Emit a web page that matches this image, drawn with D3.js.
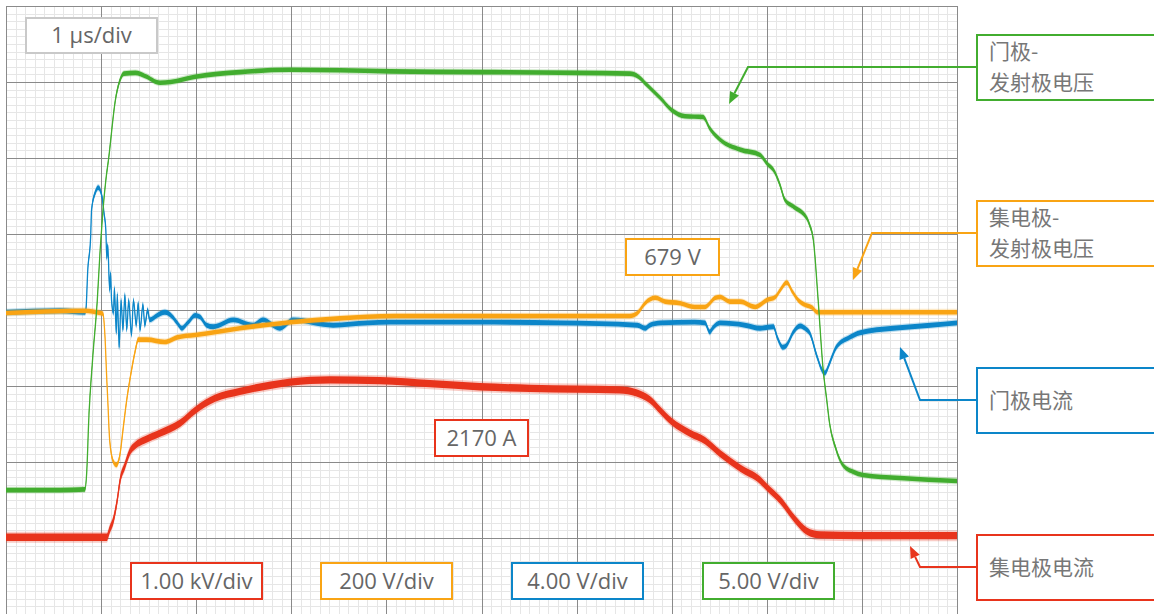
<!DOCTYPE html>
<html>
<head>
<meta charset="utf-8">
<script src="https://cdn.jsdelivr.net/npm/d3@7"></script>
<style>
  html, body { margin: 0; padding: 0; background: #fff; }
  svg { display: block; }
  .lbl { font-family: 'Open Sans', 'Noto Sans', sans-serif; font-size: 22px; fill: #666; }
  .cjk { font-family: 'Noto Sans CJK SC', sans-serif; font-size: 21px; fill: #777; }
</style>
</head>
<body>
<div id="chart"></div>
<script>
// time in µs, values in screen divisions (0 = centre line)
const gateEmitter = [
  [-1, -2.37], [-0.43, -2.37], [-0.17, -2.36], [-0.15, -2.11], [-0.13, -1.45], [-0.09, -0.66],
  [-0.04, 0.13], [-0.01, 0.79], [0.02, 1.32], [0.05, 1.71], [0.08, 2.00], [0.15, 2.76],
  [0.20, 3.03], [0.24, 3.11], [0.36, 3.12], [0.46, 3.08], [0.62, 2.99], [0.73, 3.00],
  [0.99, 3.07], [1.46, 3.13], [1.99, 3.16], [3.04, 3.14], [3.98, 3.13], [5.00, 3.12],
  [5.56, 3.11], [5.65, 3.07], [5.74, 2.96], [5.88, 2.79], [6.00, 2.63], [6.14, 2.55],
  [6.33, 2.54], [6.40, 2.39], [6.51, 2.24], [6.72, 2.11], [6.93, 2.04], [7.00, 1.93],
  [7.09, 1.80], [7.14, 1.64], [7.19, 1.45], [7.28, 1.36], [7.42, 1.21], [7.45, 1.12],
  [7.49, 0.92], [7.54, 0.13], [7.59, -0.75], [7.63, -1.18], [7.66, -1.49], [7.72, -1.80],
  [7.80, -2.04], [7.91, -2.13], [8.01, -2.17], [8.40, -2.21], [9.00, -2.25]
];

const collectorCurrent = [
  [-1, -2.99], [0.06, -2.99], [0.09, -2.89], [0.13, -2.76], [0.17, -2.50], [0.20, -2.24],
  [0.25, -2.05], [0.30, -1.87], [0.36, -1.78], [0.46, -1.71], [0.62, -1.62], [0.83, -1.49],
  [0.99, -1.32], [1.20, -1.16], [1.46, -1.07], [1.78, -0.99], [1.99, -0.95], [2.41, -0.92],
  [2.93, -0.93], [3.46, -0.97], [3.98, -1.01], [4.51, -1.03], [5.00, -1.04], [5.45, -1.05],
  [5.63, -1.09], [5.77, -1.18], [5.88, -1.32], [6.00, -1.47], [6.19, -1.62], [6.35, -1.72],
  [6.51, -1.89], [6.72, -2.08], [6.93, -2.24], [7.00, -2.33], [7.14, -2.50], [7.30, -2.76],
  [7.42, -2.91], [7.56, -2.96], [7.98, -2.97], [9.00, -2.97]
];

const collectorEmitter = [
  [-1, -0.04], [-0.17, -0.01], [-0.01, -0.04], [0.02, -0.05], [0.04, -0.33], [0.06, -0.92],
  [0.07, -1.18], [0.09, -1.71], [0.13, -2.00], [0.16, -2.04], [0.20, -1.89], [0.23, -1.58],
  [0.27, -1.18], [0.32, -0.79], [0.36, -0.53], [0.39, -0.39], [0.48, -0.39], [0.67, -0.42],
  [0.80, -0.36], [0.99, -0.33], [1.46, -0.24], [1.99, -0.16], [2.51, -0.11], [3.09, -0.08],
  [3.98, -0.08], [5.56, -0.08], [5.64, -0.04], [5.72, 0.09], [5.83, 0.16], [5.93, 0.11],
  [6.09, 0.09], [6.24, 0.04], [6.35, 0.04], [6.46, 0.16], [6.51, 0.17], [6.61, 0.11],
  [6.72, 0.11], [6.88, 0.04], [7.00, 0.13], [7.09, 0.17], [7.14, 0.26], [7.21, 0.36],
  [7.27, 0.24], [7.33, 0.13], [7.40, 0.07], [7.48, 0.03], [7.53, -0.03], [9.00, -0.03]
];

const gateCurrent = [
  [-1, -0.03], [-0.43, -0.01], [-0.17, -0.03], [-0.16, 0.00], [-0.14, 0.53], [-0.11, 0.96],
  [-0.10, 1.32], [-0.06, 1.55], [-0.03, 1.61], [0.01, 1.49], [0.03, 1.28], [0.05, 1.05],
  [0.06, 0.68], [0.07, 0.86], [0.09, 0.26], [0.10, 0.49], [0.11, 0.13], [0.13, -0.04],
  [0.14, 0.29], [0.16, -0.30], [0.17, 0.21], [0.19, -0.49], [0.21, 0.13], [0.23, -0.26],
  [0.25, 0.20], [0.27, -0.26], [0.29, 0.13], [0.32, -0.33], [0.34, 0.13], [0.37, -0.20],
  [0.39, 0.09], [0.41, -0.26], [0.44, 0.07], [0.46, -0.20], [0.49, 0.00], [0.51, -0.13],
  [0.59, -0.07], [0.67, -0.03], [0.75, -0.09], [0.80, -0.17], [0.85, -0.24], [0.91, -0.17],
  [0.99, -0.07], [1.04, -0.09], [1.11, -0.20], [1.18, -0.22], [1.39, -0.13], [1.60, -0.20],
  [1.70, -0.13], [1.88, -0.24], [2.02, -0.13], [2.44, -0.20], [2.80, -0.17], [3.04, -0.16],
  [3.98, -0.16], [4.83, -0.17], [5.64, -0.20], [5.72, -0.24], [5.77, -0.20], [5.88, -0.17],
  [6.24, -0.16], [6.35, -0.17], [6.40, -0.29], [6.43, -0.24], [6.51, -0.17], [6.77, -0.20],
  [6.93, -0.24], [7.07, -0.22], [7.11, -0.36], [7.17, -0.49], [7.21, -0.46], [7.28, -0.29],
  [7.35, -0.21], [7.42, -0.26], [7.45, -0.30], [7.53, -0.62], [7.58, -0.79], [7.61, -0.83],
  [7.66, -0.70], [7.73, -0.49], [7.87, -0.36], [7.98, -0.30], [8.33, -0.24], [8.72, -0.20],
  [9.00, -0.17]
];

const scaleLabels = ['1.00 kV/div', '200 V/div', '4.00 V/div', '5.00 V/div'];
const traceNames = [['门极-', '发射极电压'], ['集电极-', '发射极电压'], ['门极电流'], ['集电极电流']];
const readouts = ['2170 A', '679 V'];
const timebase = '1 µs/div';

const colors = { red: '#e8341c', orange: '#f9a414', blue: '#0c86c9', green: '#42ad2f' };

const width = 1154, height = 614;
const plot = { left: 6, right: 957, top: 6, bottom: 614 };

const x = d3.scaleLinear().domain([-1, 9]).range([plot.left, plot.right]);
const y = d3.scaleLinear().domain([-4, 4]).range([plot.bottom, plot.top]);

const svg = d3.select('#chart').append('svg')
  .attr('width', width)
  .attr('height', height);

// grid
const xg = x.copy().interpolate(d3.interpolateRound);
const yg = y.copy().interpolate(d3.interpolateRound);
const minorX = d3.range(-10, 91).map(d => d / 10).filter(d => Math.round(d * 10) % 10 !== 0);
const minorY = d3.range(-40, 41).map(d => d / 10).filter(d => Math.round(d * 10) % 10 !== 0);

function grid(g, axis, color, w) {
  g.call(axis);
  g.select('.domain').remove();
  g.selectAll('.tick line').attr('stroke', color).attr('stroke-width', w);
  g.selectAll('.tick text').remove();
}

svg.append('g')
  .attr('transform', `translate(0,${plot.bottom})`)
  .call(grid, d3.axisBottom(xg).tickValues(minorX).tickSize(-(plot.bottom - plot.top)), '#e6e6e6', 1);
svg.append('g')
  .attr('transform', `translate(${plot.left},0)`)
  .call(grid, d3.axisLeft(yg).tickValues(minorY).tickSize(-(plot.right - plot.left)), '#e6e6e6', 1);
svg.append('g')
  .attr('transform', `translate(0,${plot.bottom})`)
  .call(grid, d3.axisBottom(xg).tickValues(d3.range(-1, 10)).tickSize(-(plot.bottom - plot.top)), '#8a8a8a', 1);
svg.append('g')
  .attr('transform', `translate(${plot.left},0)`)
  .call(grid, d3.axisLeft(yg).tickValues(d3.range(-4, 5)).tickSize(-(plot.right - plot.left)), '#8a8a8a', 1);

// traces (noise = half-width of the noisy band, in divisions)
const traces = [
  { data: collectorCurrent, color: colors.red, noise: 0.048 },
  { data: gateCurrent, color: colors.blue, noise: 0.032 },
  { data: collectorEmitter, color: colors.orange, noise: 0.03 },
  { data: gateEmitter, color: colors.green, noise: 0.03 }
];

const line = d3.line().x(d => x(d[0])).y(d => y(d[1])).curve(d3.curveMonotoneX);
const band = n => d3.area()
  .x(d => x(d[0]))
  .y0(d => y(d[1] - n))
  .y1(d => y(d[1] + n))
  .curve(d3.curveMonotoneX);

const traceG = svg.append('g');
for (const tr of traces) {
  const g = traceG.append('g');
  g.append('path').attr('d', band(tr.noise * 1.5)(tr.data)).attr('fill', tr.color).attr('opacity', 0.25);
  g.append('path').attr('d', band(tr.noise)(tr.data)).attr('fill', tr.color);
  g.append('path').attr('d', line(tr.data)).attr('fill', 'none').attr('stroke', tr.color).attr('stroke-width', 1.3);
}

// boxes with text
function box(g, x0, y0, w, h, color) {
  const b = g.append('g');
  b.append('rect')
    .attr('x', x0).attr('y', y0).attr('width', w).attr('height', h)
    .attr('fill', '#fff').attr('stroke', color).attr('stroke-width', 2);
  return b;
}

const ann = svg.append('g');

function centeredBox(x0, y0, w, h, color, label) {
  const b = box(ann, x0, y0, w, h, color);
  b.append('text').attr('class', 'lbl')
    .attr('x', x0 + w / 2).attr('y', y0 + h / 2 + 7.5)
    .attr('text-anchor', 'middle')
    .text(label);
}

centeredBox(26, 18, 131, 35, '#c9c9c9', timebase);
centeredBox(435, 420, 93, 36, colors.red, readouts[0]);
centeredBox(626, 239, 93, 36, colors.orange, readouts[1]);

const scaleColors = [colors.red, colors.orange, colors.blue, colors.green];
const scaleX = [131, 321, 512, 703];
scaleLabels.forEach((s, i) => centeredBox(scaleX[i], 563, 131, 36, scaleColors[i], s));

// trace name boxes with leader arrows
const names = [
  { lines: traceNames[0], color: colors.green, top: 35, lineY: 67, elbow: [748, 67], tip: [729, 104] },
  { lines: traceNames[1], color: colors.orange, top: 201, lineY: 233, elbow: [872, 233], tip: [853, 280] },
  { lines: traceNames[2], color: colors.blue, top: 368, lineY: 400, elbow: [920, 400], tip: [900, 347] },
  { lines: traceNames[3], color: colors.red, top: 535, lineY: 567, elbow: [920, 567], tip: [910, 546] }
];

for (const n of names) {
  const b = box(ann, 977, n.top, 200, 65, n.color);
  if (n.lines.length === 2) {
    b.append('text').attr('class', 'cjk').attr('x', 989).attr('y', n.top + 24).text(n.lines[0]);
    b.append('text').attr('class', 'cjk').attr('x', 989).attr('y', n.top + 55).text(n.lines[1]);
  } else {
    b.append('text').attr('class', 'cjk').attr('x', 989).attr('y', n.top + 40).text(n.lines[0]);
  }

  const [ex, ey] = n.elbow;
  const [tx, ty] = n.tip;
  const ang = Math.atan2(ty - ey, tx - ex);
  const len = 12, half = 5;
  const bx = tx - len * Math.cos(ang), by = ty - len * Math.sin(ang);
  ann.append('path')
    .attr('d', `M976,${n.lineY}L${ex},${ey}L${bx},${by}`)
    .attr('fill', 'none').attr('stroke', n.color).attr('stroke-width', 2);
  ann.append('path')
    .attr('d', `M${tx},${ty}L${bx + half * Math.sin(ang)},${by - half * Math.cos(ang)}L${bx - half * Math.sin(ang)},${by + half * Math.cos(ang)}Z`)
    .attr('fill', n.color);
}
</script>
</body>
</html>
